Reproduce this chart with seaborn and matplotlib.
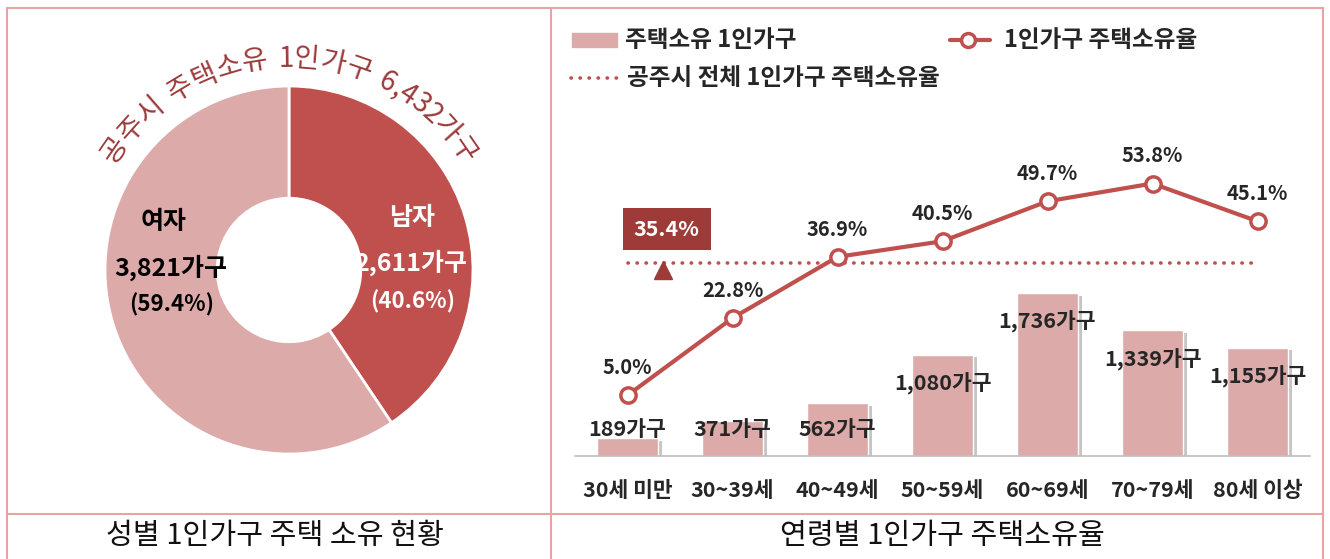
import numpy as np
import pandas as pd
import matplotlib.pyplot as plt
import matplotlib.patheffects as pe
from matplotlib.lines import Line2D
from matplotlib.patches import Rectangle
import seaborn as sns

# data
genders = ["남자", "여자"]
gender_counts = [2611, 3821]
gender_shares = [40.6, 59.4]
total_owners = 6432

ages = ["30세 미만", "30~39세", "40~49세", "50~59세", "60~69세", "70~79세", "80세 이상"]
owners = [189, 371, 562, 1080, 1736, 1339, 1155]
rates = [5.0, 22.8, 36.9, 40.5, 49.7, 53.8, 45.1]
total_rate = 35.4

W, H = 1330, 559
DARK = "#C0504D"
LIGHT = "#DDAAAA"
DEEP = "#9E3A38"
BORDER = "#E8A4A4"
TXT = "#262626"

sns.set_style("white")
plt.rcParams["font.family"] = ["Noto Sans CJK KR", "DejaVu Sans"]

fig = plt.figure(figsize=(W / 100, H / 100), dpi=100)


def fx(px):
    return px / W


def fy(py):
    return 1 - py / H


# frame lines
for (x0, y0, x1, y1) in [(7, 8, 1323, 8), (7, 8, 7, 559), (1323, 8, 1323, 559),
                         (551, 8, 551, 559), (7, 514, 1323, 514)]:
    fig.add_artist(Line2D([fx(x0), fx(x1)], [fy(y0), fy(y1)], color=BORDER, lw=1.5))

fig.text(fx(275), fy(536), "성별 1인가구 주택 소유 현황", ha="center", va="center", fontsize=21, color="#111111")
fig.text(fx(942), fy(536), "연령별 1인가구 주택소유율", ha="center", va="center", fontsize=21, color="#111111")

# ---- donut ----
cx, cy, R = 289, 270, 184
lim = 1.15
size = 2 * lim * R
axd = fig.add_axes([fx(cx - size / 2), fy(cy + size / 2), size / W, size / H])
axd.pie(gender_counts, startangle=90, counterclock=False, colors=[DARK, LIGHT],
        wedgeprops=dict(width=0.61, edgecolor="white", linewidth=2))
axd.set_xlim(-lim, lim)
axd.set_ylim(-lim, lim)
axd.set_aspect("equal")
axd.axis("off")

axd.text(0.67, 0.28, genders[0], color="white", ha="center", va="center", fontsize=18, fontweight="bold")
axd.text(0.66, 0.04, f"{gender_counts[0]:,}가구", color="white", ha="center", va="center", fontsize=18, fontweight="bold")
axd.text(0.67, -0.17, f"({gender_shares[0]}%)", color="white", ha="center", va="center", fontsize=16, fontweight="bold")
axd.text(-0.68, 0.26, genders[1], color="black", ha="center", va="center", fontsize=18, fontweight="bold")
axd.text(-0.64, 0.01, f"{gender_counts[1]:,}가구", color="black", ha="center", va="center", fontsize=18, fontweight="bold")
axd.text(-0.64, -0.19, f"({gender_shares[1]}%)", color="black", ha="center", va="center", fontsize=16, fontweight="bold")

# curved title along the arc
arc_text = f"공주시 주택소유 1인가구 {total_owners:,}가구"


def char_w(c):
    if c.isdigit():
        return 0.58
    if c == " ":
        return 0.38
    if c == ",":
        return 0.3
    return 1.0


widths = [char_w(c) for c in arc_text]
start_ang, end_ang = 149, 31
step = (start_ang - end_ang) / sum(widths)
pos = start_ang
r_text = 1.15
for c, w in zip(arc_text, widths):
    ang = pos - step * w / 2
    pos -= step * w
    if c == " ":
        continue
    t = np.deg2rad(ang)
    axd.text(r_text * np.cos(t), r_text * np.sin(t), c, rotation=ang - 90,
             rotation_mode="anchor", ha="center", va="center", fontsize=20,
             color="#9B3A3A", clip_on=False)

# ---- bar + line chart ----
ax_l, ax_r, ax_b, ax_t = 575, 1310, 456, 130
ax = fig.add_axes([fx(ax_l), fy(ax_b), (ax_r - ax_l) / W, (ax_b - ax_t) / H])
df = pd.DataFrame({"age": ages, "owners": owners, "rate": rates})
sns.barplot(data=df, x="age", y="owners", ax=ax, color=LIGHT, width=0.58, saturation=1)
for p in ax.patches:
    p.set_path_effects([pe.SimplePatchShadow(offset=(3, -2), shadow_rgbFace="#7f7f7f", alpha=0.45),
                        pe.Normal()])
bar_scale = 0.0939  # px per household
ax.set_ylim(0, (ax_b - ax_t) / bar_scale)
ax.set_xlim(-0.5, len(ages) - 0.5)
ax.set_xlabel("")
ax.set_ylabel("")
ax.set_yticks([])
for s in ["top", "left", "right"]:
    ax.spines[s].set_visible(False)
ax.spines["bottom"].set_color("#BFBFBF")
ax.spines["bottom"].set_linewidth(1.2)
ax.set_xticks(range(len(ages)))
ax.set_xticklabels(ages, fontsize=15.5, fontweight="bold", color=TXT)
ax.set_xticks(np.arange(-0.5, len(ages)), minor=True)
ax.tick_params(axis="x", which="major", length=0, pad=17)
ax.tick_params(axis="x", which="minor", length=8, color="#BFBFBF", width=1.2, direction="out")

for i, v in enumerate(owners):
    ax.text(i, max(v - 309, 277), f"{v:,}가구", ha="center", va="center",
            fontsize=15.5, fontweight="bold", color=TXT)

ax2 = ax.twinx()
sns.lineplot(data=df.assign(pos=np.arange(len(ages))), x="pos", y="rate", ax=ax2,
             color=DARK, lw=3, marker="o", markersize=11, markerfacecolor="white",
             markeredgecolor=DARK, markeredgewidth=2.5, zorder=5)
rate_scale = 4.34  # px per percent
zero_px = 417
ax2.set_ylim((zero_px - ax_b) / rate_scale, (zero_px - ax_t) / rate_scale)
ax2.set_xlim(-0.5, len(ages) - 0.5)
ax2.set_yticks([])
ax2.set_ylabel("")
ax2.set_xlabel("")
for s in ["top", "left", "right", "bottom"]:
    ax2.spines[s].set_visible(False)

ax2.plot([0, len(ages) - 1], [total_rate, total_rate], color=DARK, lw=2.6,
         linestyle=(0, (0.1, 2.4)), dash_capstyle="round", zorder=3)

for i, r in enumerate(rates):
    ax2.annotate(f"{r:.1f}%", (i, r), xytext=(0, 20), textcoords="offset points",
                 ha="center", va="center", fontsize=14.5, fontweight="bold", color=TXT)

ax2.text(0.375, total_rate + 7.9, f"{total_rate}%", ha="center", va="center", fontsize=15.5,
         fontweight="bold", color="white",
         bbox=dict(boxstyle="square,pad=0.5", fc=DEEP, ec="none"))
ax2.plot([0.34], [total_rate - 1.6], marker="^", markersize=13, color=DEEP, zorder=4)

# ---- legend (figure coordinates) ----
fig.add_artist(Rectangle((fx(572), fy(47)), 45 / W, 14 / H, color=LIGHT))
fig.text(fx(625), fy(40), "주택소유 1인가구", va="center", fontsize=17, fontweight="bold", color=TXT)
fig.add_artist(Line2D([fx(950), fx(990)], [fy(40), fy(40)], color=DARK, lw=3))
fig.add_artist(Line2D([fx(968)], [fy(40)], marker="o", markersize=10, markerfacecolor="white",
                      markeredgecolor=DARK, markeredgewidth=2.5))
fig.text(fx(1004), fy(40), "1인가구 주택소유율", va="center", fontsize=17, fontweight="bold", color=TXT)
fig.add_artist(Line2D([fx(571), fx(617)], [fy(78), fy(78)], color=DARK, lw=2.6,
                      linestyle=(0, (0.1, 2.4)), dash_capstyle="round"))
fig.text(fx(627), fy(78), "공주시 전체 1인가구 주택소유율", va="center", fontsize=17, fontweight="bold", color=TXT)

fig.savefig("out.png", dpi=100)
